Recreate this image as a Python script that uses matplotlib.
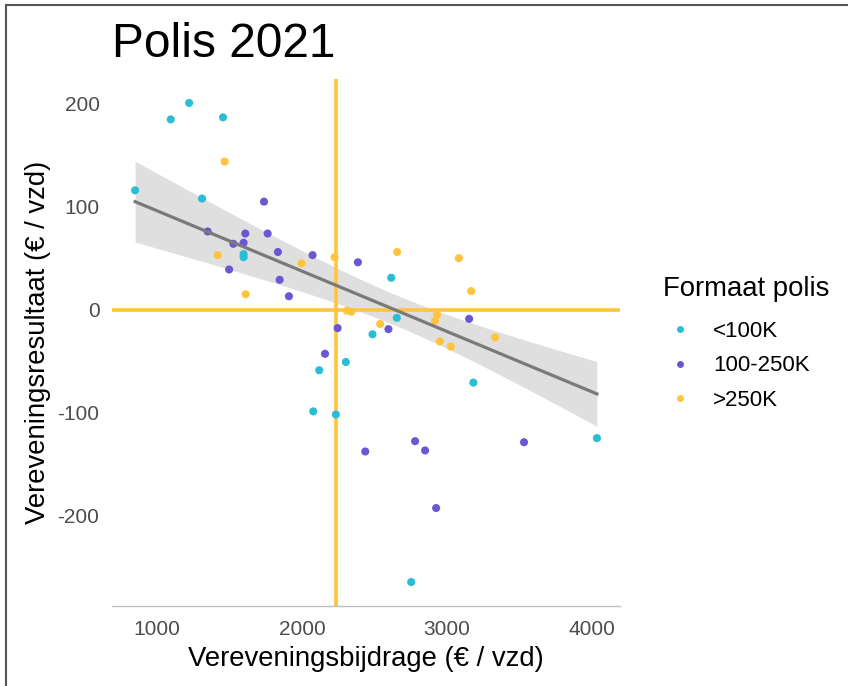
import numpy as np
import matplotlib
matplotlib.use("Agg")
from matplotlib import pyplot as plt
from matplotlib.lines import Line2D

plt.rcParams['font.family'] = ['Liberation Sans', 'DejaVu Sans']
plt.rcParams['axes.unicode_minus'] = False

groups = ['<100K', '100-250K', '>250K']
colors = ['#29BED6', '#6B57D3', '#FFC43D']

# vereveningsbijdrage (x) and vereveningsresultaat (y) per polis, per group
x_small = [1221, 1094, 1455, 848, 1310, 1597, 1597, 2655, 2487, 2616, 3183,
           2303, 2119, 2078, 2234, 4036, 2754]
y_small = [201, 185, 187, 116, 108, 54, 51, -8, -24, 31, -71,
           -51, -59, -99, -102, -125, -265]

x_mid = [1738, 1349, 1609, 1763, 1526, 1597, 1834, 2073, 1497, 1846, 1910,
         2386, 2246, 2159, 2597, 3154, 2781, 2850, 2437, 3533, 2926]
y_mid = [105, 76, 74, 74, 64, 65, 56, 53, 39, 29, 13,
         46, -18, -43, -19, -9, -128, -137, -138, -129, -193]

x_big = [1466, 1418, 1997, 2225, 1611, 2310, 2340, 2657, 3083, 3168, 2933,
         2918, 2540, 2952, 3028, 3333]
y_big = [144, 53, 45, 51, 15, -1, -2, 56, 50, 18, -5,
         -11, -14, -31, -36, -27]

x_ref = 2237   # vertical reference line
y_ref = 0      # horizontal reference line

# trend line (weighted fit in the original):
# end points, and half width of the 95% band at both ends and at its narrowest
fit_x = [848, 4036]
fit_y = [105, -82]
band_x = [848, 2656, 4036]
band_half = [39.3, 15, 31.5]

xs = [x_small, x_mid, x_big]
ys = [y_small, y_mid, y_big]

fig = plt.figure(figsize=(8.48, 6.86), dpi=100)
ax = fig.add_axes([112 / 848, 1 - 606 / 686, 508 / 848, 527 / 686])

# band is hyperbolic around the fit: half^2 = a + b * (x - xc)^2
xc = band_x[1]
a = band_half[1] ** 2
b = (band_half[0] ** 2 - a) / (band_x[0] - xc) ** 2
xg = np.linspace(fit_x[0], fit_x[1], 100)
yg = np.interp(xg, fit_x, fit_y)
hw = np.sqrt(a + b * (xg - xc) ** 2)

ax.fill_between(xg, yg - hw, yg + hw, color='#DFDFDF', lw=0, zorder=1)

ax.axhline(y_ref, color='#FFC43D', lw=2.6, zorder=2)
ax.axvline(x_ref, color='#FFC43D', lw=2.6, zorder=2)

for x, y, c in zip(xs, ys, colors):
    ax.scatter(x, y, s=34, color=c, edgecolors='none', zorder=3)

ax.plot(xg, yg, color='#7A7A7A', lw=2.3, zorder=4)

ax.margins(0.05)
ax.set_xticks([1000, 2000, 3000, 4000])
ax.set_yticks([-200, -100, 0, 100, 200])
ax.tick_params(length=0, labelsize=15, labelcolor='#4D4D4D')
ax.tick_params(axis='x', pad=10)
ax.tick_params(axis='y', pad=9)
for side in ['left', 'right', 'top']:
    ax.spines[side].set_visible(False)
ax.spines['bottom'].set_color('#BEBEBE')
ax.spines['bottom'].set_linewidth(1.0)

ax.set_xlabel('Vereveningsbijdrage (€ / vzd)', fontsize=19.8, labelpad=5)
ax.set_ylabel('Vereveningsresultaat (€ / vzd)', fontsize=19.8, labelpad=5)

fig.text(112 / 848, 1 - 57 / 686, 'Polis 2021', fontsize=34.5, va='baseline')

handles = [Line2D([], [], ls='none', marker='o', ms=5, color=c, mec='none')
           for c in colors]
leg = fig.legend(handles, groups, title='Formaat polis', loc='upper left',
                 bbox_to_anchor=(643 / 848, 1 - 256 / 686), frameon=False,
                 fontsize=16, title_fontsize=19.8, labelspacing=0.62,
                 handletextpad=0.75, handlelength=1.5)
leg._legend_box.align = 'left'
leg._legend_box.sep = 13.4

# frame from the screenshot
fig.add_artist(Line2D([6 / 848, 6 / 848], [0, 1 - 5 / 686], color='#555555', lw=1.5))
fig.add_artist(Line2D([6 / 848, 1], [1 - 5 / 686, 1 - 5 / 686], color='#555555', lw=1.5))

fig.savefig('out.png', dpi=100)
